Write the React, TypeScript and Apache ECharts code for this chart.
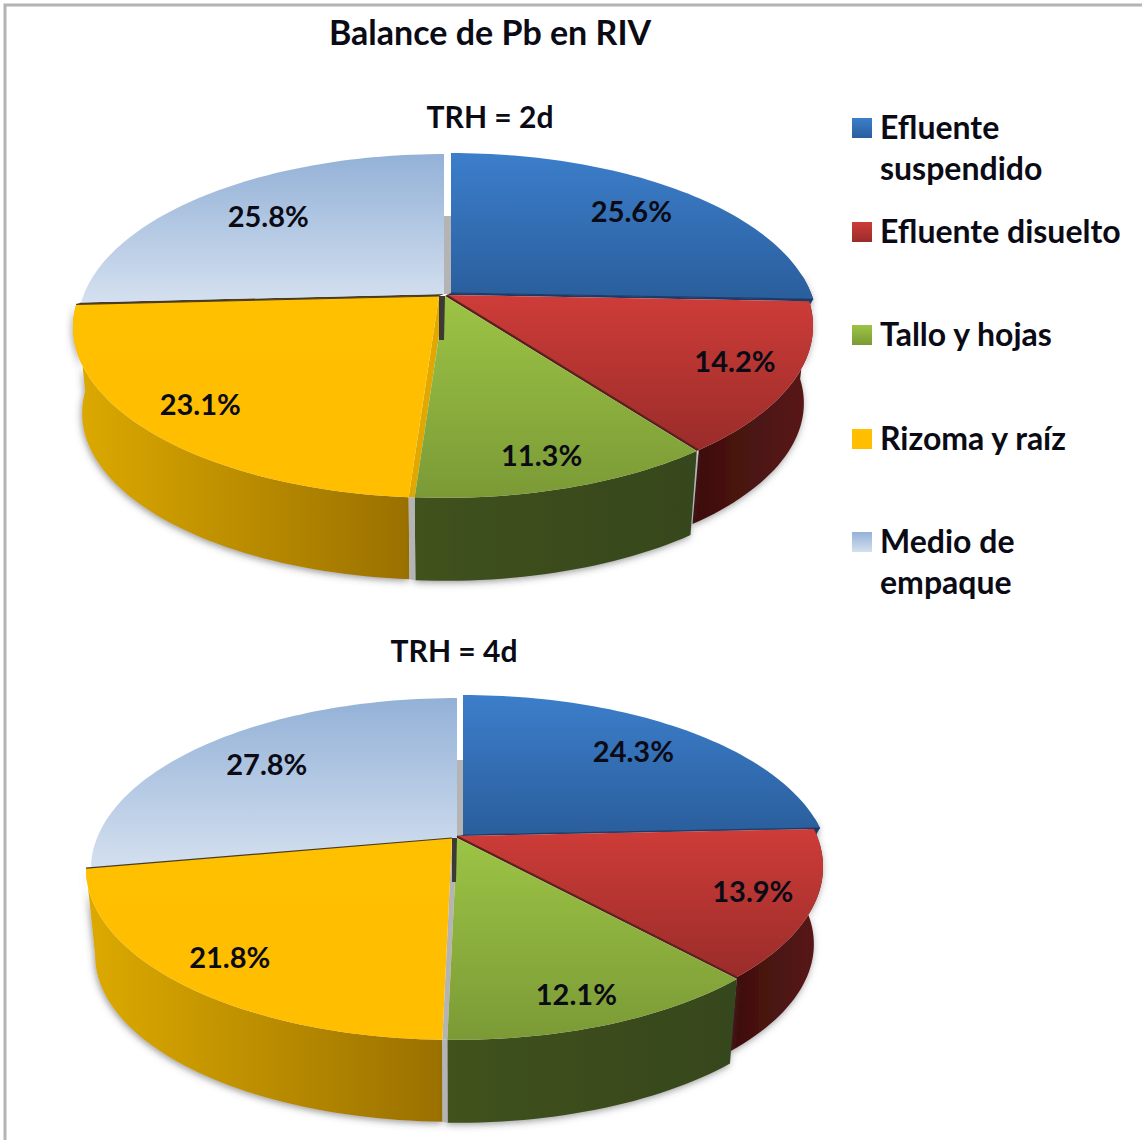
import React, { useEffect, useRef } from "react";
import * as echarts from "echarts";

const chartTitle = "Balance de Pb en RIV";
const pieTitles = ["TRH = 2d", "TRH = 4d"];
const categories = ["Efluente suspendido", "Efluente disuelto", "Tallo y hojas", "Rizoma y raíz", "Medio de empaque"];
const legendLines = [["Efluente", "suspendido"], ["Efluente disuelto"], ["Tallo y hojas"], ["Rizoma y raíz"], ["Medio de", "empaque"]];
const values2d = [25.6, 14.2, 11.3, 23.1, 25.8];
const values4d = [24.3, 13.9, 12.1, 21.8, 27.8];

const FONT = "Lato, Carlito, 'Open Sans', sans-serif";
const INK = "#0b0b16";
const PERSP = 0.181, A = 360, B = 165.3, BOTTOM_SCALE = 0.975;
const topGrad = [["#3C7ECB", "#2A5E9C"], ["#CE3C38", "#9A2C2A"], ["#9CC445", "#7B9A36"], ["#FFC000", "#FFBE00"], ["#93B1D7", "#D4E0EF"]];
const wallGrad = [["#1F3D63", "#1F3D63"], ["#3E0E0C", "#5A1A18"], ["#40521E", "#36461A"], ["#DDAA00", "#9A7000"], ["#8FA9CC", "#8FA9CC"]];
const edgeColor = ["#1E3A66", "#5A1F1C", "", "#4A3B22", ""];
const depths = [16, 78, 88, 87, 0];
const labelRadius = [0.79, 0.84, 0.86, 0.85, 0.74];
const labelTurn = [0, -1, 1, 0, 0];
const wallZ = [2, 3, 5, 4, 1];
const topZ = [11, 12, 14, 13, 10];

const pies = [
  { values: values2d, cx: 445, cy: 295, off: [[6, -2], [2, 0], [0, 1], [-6, 1], [-1, -1]], gap: "#E0A800" },
  { values: values4d, cx: 455, cy: 838, off: [[8, -3], [2, -2], [2, 0], [-3, 0], [2, 0]], gap: "#B4B4B4" },
];

const project = (cx: number, cy: number, deg: number, f = 1, s = 1) => {
  const t = (deg * Math.PI) / 180;
  const u = Math.sin(t) * f, v = Math.cos(t) * f, w = 1 + PERSP * v;
  return [cx + (s * A * u) / w, cy - (s * B * v) / w];
};
const arc = (cx: number, cy: number, a: number, b: number, s = 1) => {
  const pts: number[][] = [];
  const n = Math.max(2, Math.ceil(Math.abs(b - a) / 1.5));
  for (let i = 0; i <= n; i++) pts.push(project(cx, cy, a + ((b - a) * i) / n, 1, s));
  return pts;
};
const grad = (c: string[], horizontal: boolean) =>
  new echarts.graphic.LinearGradient(0, 0, horizontal ? 1 : 0, horizontal ? 0 : 1, [
    { offset: 0, color: c[0] },
    { offset: 1, color: c[1] },
  ]);

function pieSeries(pie: (typeof pies)[number], name: string) {
  const total = pie.values.reduce((a, b) => a + b, 0);
  const starts: number[] = [];
  pie.values.reduce((acc, v, i) => { starts[i] = acc; return acc + v; }, 0);
  return {
    type: "custom",
    name,
    coordinateSystem: "none",
    silent: true,
    data: pie.values.map((v) => [v]),
    renderItem: (params: any, api: any) => {
      const i = params.dataIndex;
      const value = api.value(0) as number;
      const a0 = (starts[i] / total) * 360, a1 = ((starts[i] + value) / total) * 360;
      const [dx, dy] = pie.off[i];
      const x = pie.cx + dx, y = pie.cy + dy;
      const children: any[] = [];
      // outer wall
      const w0 = Math.max(a0, 84), w1 = Math.min(a1, 275);
      if (w1 > w0 && depths[i] > 0) {
        const top = arc(x, y, w0, w1);
        const bot = arc(x, y + depths[i], w1, w0, BOTTOM_SCALE);
        children.push({
          type: "polygon", z2: wallZ[i], shape: { points: top.concat(bot) },
          style: { fill: grad(wallGrad[i], true), shadowBlur: 7, shadowColor: "rgba(70,70,70,0.55)", shadowOffsetY: 2, shadowOffsetX: -1 },
        });
      }
      // top face
      children.push({
        type: "polygon", z2: topZ[i], shape: { points: [[x, y] as number[]].concat(arc(x, y, a0, a1)) },
        style: { fill: grad(topGrad[i], false) },
      });
      // dark radial edge and the sliver between this slice and the next
      if (edgeColor[i]) {
        const [ndx, ndy] = pie.off[i + 1];
        const nx = pie.cx + ndx, ny = pie.cy + ndy;
        children.push({
          type: "polygon", z2: 9,
          shape: { points: [[x, y], project(x, y, a1), project(nx, ny, a1), [nx, ny]] },
          style: { fill: edgeColor[i] },
        });
        children.push({
          type: "polyline", z2: 20, shape: { points: [[x, y], project(x, y, a1)] },
          style: { stroke: edgeColor[i], lineWidth: 1.2, fill: "none" },
        });
      }
      // gaps between exploded slices
      if (i === 3) {
        const [gdx] = pie.off[2];
        const gdy = pie.off[2][1];
        const gx = pie.cx + gdx, gy = pie.cy + gdy;
        const ry = project(x, y, a0), rg = project(gx, gy, a0);
        children.push({ type: "polygon", z2: 9, shape: { points: [[x, y], ry, rg, [gx, gy]] }, style: { fill: pie.gap } });
        children.push({
          type: "polygon", z2: 6,
          shape: { points: [ry, rg, project(gx, gy + depths[2], a0, 1, BOTTOM_SCALE), project(x, y + depths[3], a0, 1, BOTTOM_SCALE)] },
          style: { fill: "#B4B4B4" },
        });
        children.push({
          type: "polygon", z2: 21,
          shape: { points: [[x, y], [gx, gy], [gx - 1, gy + 44], [x, y + 44]] },
          style: { fill: "#3C3A36" },
        });
      }
      if (i === 4) {
        const [bdx] = pie.off[0];
        const rimY = project(x, y, 0)[1];
        children.push({
          type: "polygon", z2: 1,
          shape: { points: [[x, rimY + 62], [pie.cx + bdx, rimY + 62], [pie.cx + bdx, y], [x, y]] },
          style: { fill: "#B4B4B4" },
        });
      }
      // percentage label
      const mid = (a0 + a1) / 2 + labelTurn[i];
      const p = project(pie.cx, pie.cy, mid, labelRadius[i]);
      children.push({
        type: "text", z2: 30, x: p[0], y: p[1] - 2,
        style: {
          text: value.toFixed(1) + "%", fill: INK, align: "center", verticalAlign: "middle",
          fontFamily: FONT, fontWeight: "bold", fontSize: 29,
        },
      });
      return { type: "group", children };
    },
  };
}

const legendTop = [127, 231, 334, 438, 541];
const legendGraphics = categories.flatMap((_, i) => {
  const lines = legendLines[i];
  const items: any[] = [
    {
      type: "rect", shape: { x: 852, y: legendTop[i] - 9, width: 20, height: 20 },
      style: { fill: new echarts.graphic.LinearGradient(0, 0, 0, 1, [{ offset: 0, color: topGrad[i][0] }, { offset: 1, color: topGrad[i][1] }]) },
    },
  ];
  lines.forEach((t, k) =>
    items.push({
      type: "text", x: 880, y: legendTop[i] - 1 + k * 41,
      style: { text: t, fill: INK, fontFamily: FONT, fontWeight: "bold", fontSize: 32, verticalAlign: "middle", align: "left" },
    })
  );
  return items;
});

export default function App() {
  const ref = useRef<HTMLDivElement>(null);
  useEffect(() => {
    document.body.style.margin = "0";
    const chart = echarts.init(ref.current!, null, { renderer: "svg" });
    const head = (text: string, x: number, y: number, size: number) => ({
      text, left: x, top: y, textAlign: "center", padding: 0,
      textStyle: { color: INK, fontFamily: FONT, fontWeight: "bold", fontSize: size },
    });
    chart.setOption({
      animation: false,
      backgroundColor: "#ffffff",
      title: [head(chartTitle, 490, 14, 34), head(pieTitles[0], 490, 101, 30), head(pieTitles[1], 454, 635, 30)],
      graphic: [
        {
          type: "polyline", shape: { points: [[5, 1140], [5, 5], [1142, 5]] },
          style: { stroke: "#B4B4B4", lineWidth: 3, fill: "none" },
        },
        ...legendGraphics,
      ],
      series: [pieSeries(pies[0], pieTitles[0]), pieSeries(pies[1], pieTitles[1])],
    });
    return () => chart.dispose();
  }, []);
  return <div ref={ref} style={{ width: 1142, height: 1140 }} />;
}
